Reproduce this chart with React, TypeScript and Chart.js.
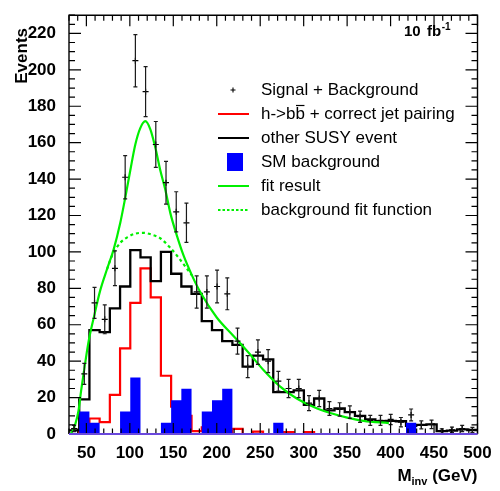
import React, { useEffect, useRef } from 'react';
import { Chart, registerables } from 'chart.js';

Chart.register(...registerables);

// Binning of the invariant-mass histograms (GeV)
const BIN_LO = 30;
const BIN_WIDTH = 11.75;

const X_MIN = 30;
const X_MAX = 500;
const Y_MIN = 0;
const Y_MAX = 230;

const xTickValues = [50, 100, 150, 200, 250, 300, 350, 400, 450, 500];
const yTickValues = [0, 20, 40, 60, 80, 100, 120, 140, 160, 180, 200, 220];

// Events per bin (40 bins)
const signalPlusBackground = [
  3, 33, 72, 63, 91, 141, 205, 188, 159, 138,
  122, 116, 78, 78, 81, 77, 51, 37, 45, 40,
  29, 25, 25, 17, 19.5, 14, 13.5, 12, 9.5, 7.5,
  7.5, 8, 6.5, 10.5, 5, 5.3, 1.6, 2.3, 3, 2.2,
];
const hbbCorrectPairing = [
  0, 1, 8.5, 6.5, 21.5, 47, 72, 91, 75, 32,
  15, 10, 1.6, 3.6, 5.4, 1, 2.8, 0, 1.3, 0,
  0, 1, 0, 1, 0, 0, 0, 0, 0, 0,
  0, 0, 0, 0, 0, 0, 0, 0, 0, 0,
];
const otherSusyEvent = [
  2, 19, 57, 56, 69, 81, 101, 97, 84, 100,
  88, 81, 77, 62, 57, 51, 49, 37, 43, 41,
  23, 23, 24, 16, 19.5, 13, 14, 12, 10, 8,
  7, 7.2, 7, 4.5, 5, 5.3, 1.6, 1.8, 2.5, 2.2,
];
const smBackground = [
  0, 12.4, 6.2, 0, 0, 12.4, 31, 0, 0, 6.2,
  18.6, 24.8, 0, 12.4, 18.6, 24.8, 0, 0, 0, 0,
  6.2, 0, 0, 0, 0, 0, 0, 0, 0, 0,
  0, 0, 0, 6.2, 0, 0, 0, 0, 0, 0,
];

// Fit result (signal + background), sampled along the curve
const fitMass = [
  31.5, 34, 37, 41, 44, 48, 52.6, 58.3, 66, 73.8, 81.4, 89, 94.8, 100.6,
  106.3, 112, 117.8, 123.6, 129.3, 135.1, 140.9, 146.6, 154.3, 162, 171.6,
  181, 200, 219, 238.7, 254, 273, 292, 311.6, 330.7, 350, 369, 398,
];
const fitEvents = [
  0, 1.5, 5, 13, 24, 37, 51, 63.5, 79, 90.6, 101.4, 116, 130, 145,
  159, 168, 171.8, 167.3, 157.3, 144.7, 134, 121.3, 108.7, 97.8, 87,
  78, 64, 54, 43.5, 35, 26, 19.5, 14.8, 11.5, 9, 7.2, 6,
];
// Background part of the fit where it departs from the full fit
const bkgFitMass = [73.8, 80, 85, 90, 97, 106, 116, 125, 135, 146, 155, 163, 171.6];
const bkgFitEvents = [90.6, 98.5, 102.5, 105.5, 108, 110, 110.5, 109.5, 107.5, 102.5, 97.5, 92.5, 87];

const FONT = '"Liberation Sans", Arial, Helvetica, sans-serif';
const GREEN = '#00f000';

const binEdge = (k: number) => BIN_LO + BIN_WIDTH * k;
const histSteps = (vals: number[]) => [
  ...vals.map((v, k) => ({ x: binEdge(k), y: v })),
  { x: binEdge(vals.length), y: vals[vals.length - 1] },
];
const binCenters = (vals: number[]) =>
  vals.map((v, k) => ({ x: binEdge(k) + BIN_WIDTH / 2, y: v }));
const curve = (xs: number[], ys: number[]) => xs.map((x, i) => ({ x, y: ys[i] }));

// Poisson error bars on the signal + background points
const errorBars = {
  id: 'errorBars',
  afterDatasetDraw(chart: any, args: any) {
    if (args.index !== 0) return;
    const { ctx, scales } = chart;
    const xs = scales.x;
    const ys = scales.y;
    ctx.save();
    ctx.strokeStyle = '#1a1a1a';
    ctx.lineWidth = 1.2;
    signalPlusBackground.forEach((v, k) => {
      const err = Math.sqrt(v);
      const px = xs.getPixelForValue(binEdge(k) + BIN_WIDTH / 2);
      const yHi = ys.getPixelForValue(v + err);
      const yLo = ys.getPixelForValue(Math.max(0, v - err));
      ctx.beginPath();
      ctx.moveTo(px, yHi);
      ctx.lineTo(px, yLo);
      ctx.moveTo(px - 2, yHi);
      ctx.lineTo(px + 2, yHi);
      ctx.moveTo(px - 2, yLo);
      ctx.lineTo(px + 2, yLo);
      ctx.stroke();
    });
    ctx.restore();
  },
};

// Frame with inward ticks on all four sides, legend and labels
const frameDecor = {
  id: 'frameDecor',
  afterDraw(chart: any) {
    const { ctx, chartArea, scales } = chart;
    const { left, right, top, bottom } = chartArea;
    const xs = scales.x;
    const ys = scales.y;
    ctx.save();

    ctx.strokeStyle = '#000';
    ctx.lineWidth = 1.2;
    ctx.beginPath();
    for (let v = 30; v <= X_MAX; v += 10) {
      const px = xs.getPixelForValue(v);
      const len = v % 50 === 0 ? 11 : 5.5;
      ctx.moveTo(px, bottom);
      ctx.lineTo(px, bottom - len);
      ctx.moveTo(px, top);
      ctx.lineTo(px, top + len);
    }
    for (let v = 0; v <= Y_MAX; v += 5) {
      const py = ys.getPixelForValue(v);
      const len = v % 20 === 0 ? 12 : 6;
      ctx.moveTo(left, py);
      ctx.lineTo(left + len, py);
      ctx.moveTo(right, py);
      ctx.lineTo(right - len, py);
    }
    ctx.stroke();

    ctx.lineWidth = 1.4;
    ctx.beginPath();
    ctx.moveTo(left, bottom);
    ctx.lineTo(left, top);
    ctx.lineTo(right, top);
    ctx.lineTo(right, bottom);
    ctx.stroke();
    ctx.strokeStyle = '#6a48dc';
    ctx.lineWidth = 2;
    ctx.beginPath();
    ctx.moveTo(left, bottom);
    ctx.lineTo(right, bottom);
    ctx.stroke();

    // Axis titles
    ctx.fillStyle = '#000';
    ctx.font = `bold 17px ${FONT}`;
    ctx.save();
    ctx.translate(27, 28);
    ctx.rotate(-Math.PI / 2);
    ctx.textAlign = 'right';
    ctx.textBaseline = 'alphabetic';
    ctx.fillText('Events', 0, 0);
    ctx.restore();

    const big = `bold 17px ${FONT}`;
    const small = `bold 11px ${FONT}`;
    ctx.font = big;
    const wM = ctx.measureText('M').width;
    const wGeV = ctx.measureText(' (GeV)').width;
    ctx.font = small;
    const wInv = ctx.measureText('inv').width;
    let tx = right - (wM + wInv + wGeV);
    ctx.textAlign = 'left';
    ctx.textBaseline = 'alphabetic';
    ctx.font = big;
    ctx.fillText('M', tx, 481);
    tx += wM;
    ctx.font = small;
    ctx.fillText('inv', tx, 485);
    tx += wInv;
    ctx.font = big;
    ctx.fillText(' (GeV)', tx, 481);

    // Luminosity
    ctx.font = `bold 15px ${FONT}`;
    ctx.fillText('10', 404, 36);
    ctx.fillText('fb', 427, 36);
    const wfb = ctx.measureText('fb').width;
    ctx.font = `bold 10px ${FONT}`;
    ctx.fillText('-1', 427 + wfb + 0.5, 30);

    // Legend
    const lx0 = 218;
    const lx1 = 249;
    const tx0 = 261;
    const rows = [90, 114, 138, 162, 186, 210];
    ctx.font = `17px ${FONT}`;
    ctx.textBaseline = 'middle';
    ctx.fillStyle = '#000';

    ctx.strokeStyle = '#000';
    ctx.lineWidth = 1.1;
    ctx.beginPath();
    ctx.moveTo(233 - 2.5, rows[0]);
    ctx.lineTo(233 + 2.5, rows[0]);
    ctx.moveTo(233, rows[0] - 2.5);
    ctx.lineTo(233, rows[0] + 2.5);
    ctx.stroke();
    ctx.fillText('Signal + Background', tx0, rows[0]);

    ctx.strokeStyle = '#ff0000';
    ctx.lineWidth = 2;
    ctx.beginPath();
    ctx.moveTo(lx0, rows[1]);
    ctx.lineTo(lx1, rows[1]);
    ctx.stroke();
    ctx.fillText('h->bb + correct jet pairing', tx0, rows[1]);
    const bStart = tx0 + ctx.measureText('h->b').width;
    const bEnd = tx0 + ctx.measureText('h->bb').width;
    ctx.strokeStyle = '#000';
    ctx.lineWidth = 1.2;
    ctx.beginPath();
    ctx.moveTo(bStart + 0.5, rows[1] - 8.5);
    ctx.lineTo(bEnd - 0.5, rows[1] - 8.5);
    ctx.stroke();

    ctx.strokeStyle = '#000';
    ctx.lineWidth = 2;
    ctx.beginPath();
    ctx.moveTo(lx0, rows[2]);
    ctx.lineTo(lx1, rows[2]);
    ctx.stroke();
    ctx.fillText('other SUSY event', tx0, rows[2]);

    ctx.fillStyle = '#0000ff';
    ctx.fillRect(227, rows[3] - 9, 16, 18);
    ctx.fillStyle = '#000';
    ctx.fillText('SM background', tx0, rows[3]);

    ctx.strokeStyle = GREEN;
    ctx.lineWidth = 2;
    ctx.beginPath();
    ctx.moveTo(lx0, rows[4]);
    ctx.lineTo(lx1, rows[4]);
    ctx.stroke();
    ctx.fillText('fit result', tx0, rows[4]);

    ctx.setLineDash([2.5, 2]);
    ctx.beginPath();
    ctx.moveTo(lx0, rows[5]);
    ctx.lineTo(lx1, rows[5]);
    ctx.stroke();
    ctx.setLineDash([]);
    ctx.fillText('background fit function', tx0, rows[5]);

    ctx.restore();
  },
};

export default function App() {
  const canvasRef = useRef<HTMLCanvasElement | null>(null);

  useEffect(() => {
    const canvas = canvasRef.current;
    if (!canvas) return;
    const tickFont = { family: FONT, size: 17, weight: 'bold' as const };
    const chart = new Chart(canvas, {
      type: 'line',
      data: {
        datasets: [
          {
            label: 'Signal + Background',
            data: binCenters(signalPlusBackground),
            showLine: false,
            pointStyle: 'cross',
            pointRadius: 3,
            pointBorderWidth: 1.2,
            borderColor: '#000',
            backgroundColor: '#000',
            order: 0,
          },
          {
            label: 'fit result',
            data: curve(fitMass, fitEvents),
            borderColor: GREEN,
            borderWidth: 2.2,
            pointRadius: 0,
            cubicInterpolationMode: 'monotone',
            fill: false,
            order: 1,
          },
          {
            label: 'background fit function',
            data: curve(bkgFitMass, bkgFitEvents),
            borderColor: GREEN,
            borderWidth: 2.2,
            borderDash: [3, 3],
            pointRadius: 0,
            cubicInterpolationMode: 'monotone',
            fill: false,
            order: 2,
          },
          {
            label: 'SM background',
            data: histSteps(smBackground),
            stepped: 'before',
            borderWidth: 0,
            borderColor: 'rgba(0,0,0,0)',
            backgroundColor: '#0000ff',
            pointRadius: 0,
            fill: 'origin',
            order: 3,
          },
          {
            label: 'other SUSY event',
            data: histSteps(otherSusyEvent),
            stepped: 'before',
            borderColor: '#000',
            borderWidth: 2.3,
            pointRadius: 0,
            fill: false,
            order: 4,
          },
          {
            label: 'h->bb + correct jet pairing',
            data: histSteps(hbbCorrectPairing),
            stepped: 'before',
            borderColor: '#ff0000',
            borderWidth: 2.2,
            pointRadius: 0,
            fill: false,
            order: 5,
          },
        ],
      },
      options: {
        animation: false,
        responsive: false,
        devicePixelRatio: 1,
        layout: { padding: { left: 0, top: 9, right: 22.5, bottom: 0 } },
        plugins: {
          legend: { display: false },
          tooltip: { enabled: false },
        },
        scales: {
          x: {
            type: 'linear',
            min: X_MIN,
            max: X_MAX,
            grid: { display: false },
            border: { display: false },
            afterBuildTicks: (scale: any) => {
              scale.ticks = xTickValues.map((value) => ({ value }));
            },
            afterFit: (scale: any) => {
              scale.height = 57;
            },
            ticks: {
              font: tickFont,
              color: '#000',
              padding: 1,
              maxRotation: 0,
              autoSkip: false,
            },
          },
          y: {
            type: 'linear',
            min: Y_MIN,
            max: Y_MAX,
            grid: { display: false },
            border: { display: false },
            afterBuildTicks: (scale: any) => {
              scale.ticks = yTickValues.map((value) => ({ value }));
            },
            afterFit: (scale: any) => {
              scale.width = 69;
            },
            ticks: {
              font: tickFont,
              color: '#000',
              padding: 5,
              autoSkip: false,
            },
          },
        },
      },
      plugins: [errorBars, frameDecor],
    });
    return () => chart.destroy();
  }, []);

  return (
    <div style={{ position: 'fixed', left: 0, top: 0, width: 500, height: 491, background: '#fff' }}>
      <canvas ref={canvasRef} width={500} height={491} style={{ display: 'block' }} />
    </div>
  );
}
